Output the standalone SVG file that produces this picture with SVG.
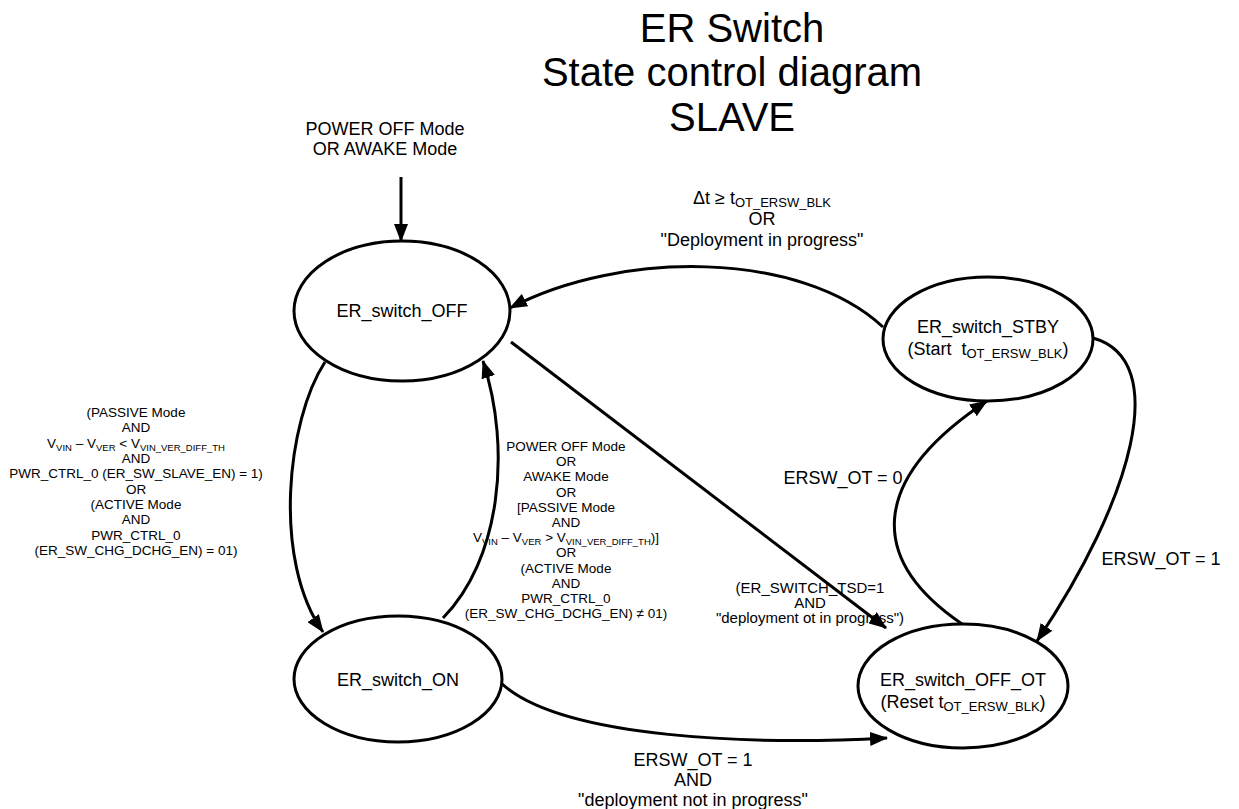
<svg xmlns="http://www.w3.org/2000/svg" width="1239" height="809" viewBox="0 0 1239 809">
  <defs>
    <marker id="arrow" markerUnits="userSpaceOnUse" markerWidth="18" markerHeight="14" refX="17" refY="7" orient="auto">
      <path d="M0,0 L18,7 L0,14 Z" fill="#000"/>
    </marker>
    <style>
      text { font-family: "Liberation Sans", Arial, sans-serif; fill: #000; }
      .title { font-size: 40px; text-anchor: middle; }
      .lbl { font-size: 18px; text-anchor: middle; }
      .sm { font-size: 13.5px; text-anchor: middle; }
      .md { font-size: 15px; text-anchor: middle; }
      .state { fill: #fff; stroke: #000; stroke-width: 3; }
      .edge { fill: none; stroke: #000; stroke-width: 3; marker-end: url(#arrow); }
    </style>
  </defs>
  <rect width="1239" height="809" fill="#fff"/>

  <!-- title -->
  <g id="title">
    <text class="title" x="732" y="42">ER Switch</text>
    <text class="title" x="732" y="86">State control diagram</text>
    <text class="title" x="732" y="131">SLAVE</text>
  </g>

  <!-- transitions -->
  <g id="connectors">
    <line class="edge" x1="401" y1="177" x2="401" y2="241"/>
    <path class="edge" d="M325,362 C287,420 272,560 323,632"/>
    <path class="edge" d="M443,618 C500,560 512,450 483,361"/>
    <line class="edge" x1="511" y1="342" x2="886" y2="628"/>
    <path class="edge" d="M883,327 C800,250 620,250 510,308"/>
    <path class="edge" d="M1093,338 C1172,360 1132,500 1037,641"/>
    <path class="edge" d="M962,624 C868,560 868,480 987,401"/>
    <path class="edge" d="M500,682 C560,740 760,745 887,738"/>
  </g>

  <!-- transition labels -->
  <g id="labels">
    <text class="lbl" x="385" y="135">POWER OFF Mode</text>
    <text class="lbl" x="385" y="155">OR AWAKE Mode</text>

    <text class="lbl" x="762" y="204">Δt ≥ t<tspan font-size="13" dy="3">OT_ERSW_BLK</tspan></text>
    <text class="lbl" x="762" y="225">OR</text>
    <text class="lbl" x="762" y="246">"Deployment in progress"</text>

    <text class="sm" x="136" y="417">(PASSIVE Mode</text>
    <text class="sm" x="136" y="432">AND</text>
    <text class="sm" x="136" y="448">V<tspan font-size="9.5" dy="3">VIN</tspan><tspan dy="-3"> – V</tspan><tspan font-size="9.5" dy="3">VER</tspan><tspan dy="-3"> &lt; V</tspan><tspan font-size="9.5" dy="3">VIN_VER_DIFF_TH</tspan></text>
    <text class="sm" x="136" y="463">AND</text>
    <text class="sm" x="136" y="478">PWR_CTRL_0 (ER_SW_SLAVE_EN) = 1)</text>
    <text class="sm" x="136" y="494">OR</text>
    <text class="sm" x="136" y="509">(ACTIVE Mode</text>
    <text class="sm" x="136" y="524">AND</text>
    <text class="sm" x="136" y="540">PWR_CTRL_0</text>
    <text class="sm" x="136" y="555">(ER_SW_CHG_DCHG_EN) = 01)</text>

    <text class="sm" x="566" y="451">POWER OFF Mode</text>
    <text class="sm" x="566" y="466">OR</text>
    <text class="sm" x="566" y="481">AWAKE Mode</text>
    <text class="sm" x="566" y="497">OR</text>
    <text class="sm" x="566" y="512">[PASSIVE Mode</text>
    <text class="sm" x="566" y="527">AND</text>
    <text class="sm" x="566" y="542">V<tspan font-size="9.5" dy="3">VIN</tspan><tspan dy="-3"> – V</tspan><tspan font-size="9.5" dy="3">VER</tspan><tspan dy="-3"> &gt; V</tspan><tspan font-size="9.5" dy="3">VIN_VER_DIFF_TH</tspan><tspan dy="-3">)]</tspan></text>
    <text class="sm" x="566" y="557">OR</text>
    <text class="sm" x="566" y="573">(ACTIVE Mode</text>
    <text class="sm" x="566" y="588">AND</text>
    <text class="sm" x="566" y="603">PWR_CTRL_0</text>
    <text class="sm" x="566" y="618">(ER_SW_CHG_DCHG_EN) ≠ 01)</text>

    <text class="lbl" x="843" y="484">ERSW_OT = 0</text>
    <text class="lbl" x="1161" y="565">ERSW_OT = 1</text>

    <text class="md" x="810" y="593">(ER_SWITCH_TSD=1</text>
    <text class="md" x="810" y="608">AND</text>
    <text class="md" x="810" y="623">"deployment ot in progress")</text>

    <text class="lbl" x="693" y="766">ERSW_OT = 1</text>
    <text class="lbl" x="693" y="786">AND</text>
    <text class="lbl" x="693" y="806">"deployment not in progress"</text>
  </g>

  <!-- states -->
  <g id="state-off">
    <ellipse class="state" cx="402" cy="311" rx="108" ry="70"/>
    <text class="lbl" x="402" y="317">ER_switch_OFF</text>
  </g>
  <g id="state-on">
    <ellipse class="state" cx="398" cy="679" rx="104" ry="63"/>
    <text class="lbl" x="398" y="686">ER_switch_ON</text>
  </g>
  <g id="state-stby">
    <ellipse class="state" cx="988" cy="339" rx="105" ry="62"/>
    <text class="lbl" x="988" y="333">ER_switch_STBY</text>
    <text class="lbl" x="988" y="355">(Start &#160;t<tspan font-size="13" dy="3">OT_ERSW_BLK</tspan><tspan dy="-3">)</tspan></text>
  </g>
  <g id="state-off-ot">
    <ellipse class="state" cx="963" cy="686" rx="105" ry="62"/>
    <text class="lbl" x="963" y="686">ER_switch_OFF_OT</text>
    <text class="lbl" x="963" y="708">(Reset t<tspan font-size="13" dy="3">OT_ERSW_BLK</tspan><tspan dy="-3">)</tspan></text>
  </g>
</svg>
